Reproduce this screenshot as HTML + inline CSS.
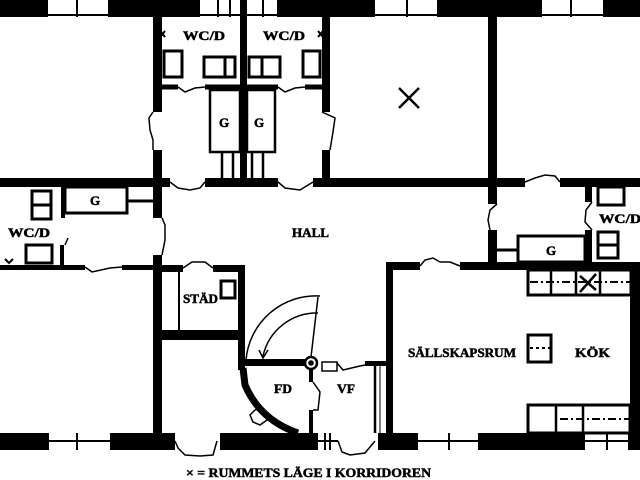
<!DOCTYPE html>
<html><head><meta charset="utf-8"><style>
html,body{margin:0;padding:0;background:#fff}
svg{display:block}
text{font-family:"Liberation Serif",serif;font-weight:bold;fill:#000;stroke:#000;stroke-width:0.5}
</style></head><body>
<svg width="640" height="480" viewBox="0 0 640 480" xmlns="http://www.w3.org/2000/svg">
<rect width="640" height="480" fill="#fff"/>
<g fill="#000">
<rect x="0" y="0" width="48" height="17"/>
<rect x="108" y="0" width="92" height="17"/>
<rect x="277" y="0" width="98" height="17"/>
<rect x="437" y="0" width="105" height="17"/>
<rect x="603" y="0" width="37" height="17"/>
<rect x="48" y="14" width="60" height="2"/>
<rect x="200" y="14" width="77" height="2"/>
<rect x="375" y="14" width="62" height="2"/>
<rect x="542" y="14" width="61" height="2"/>
<rect x="240" y="0" width="7" height="180"/>
<rect x="0" y="178" width="170" height="9"/>
<rect x="205" y="178" width="73" height="9"/>
<rect x="313" y="178" width="212" height="9"/>
<rect x="560" y="178" width="80" height="9"/>
<rect x="153" y="17" width="9" height="95"/>
<rect x="153" y="150" width="9" height="68"/>
<rect x="153" y="255" width="9" height="180"/>
<rect x="322" y="17" width="8" height="95"/>
<rect x="322" y="150" width="8" height="37"/>
<rect x="488" y="17" width="9" height="187"/>
<rect x="488" y="230" width="9" height="35"/>
<rect x="585" y="180" width="7" height="22"/>
<rect x="585" y="230" width="7" height="35"/>
<rect x="0" y="265" width="85" height="5"/>
<rect x="122" y="265" width="33" height="5"/>
<rect x="155" y="265" width="28" height="7"/>
<rect x="213" y="265" width="32" height="7"/>
<rect x="238" y="265" width="7" height="105"/>
<rect x="162" y="330" width="78" height="10"/>
<rect x="387" y="262" width="33" height="8"/>
<rect x="460" y="262" width="180" height="8"/>
<rect x="386" y="262" width="7" height="178"/>
<rect x="630" y="270" width="10" height="165"/>
<rect x="0" y="433" width="49" height="17"/>
<rect x="110" y="433" width="65" height="17"/>
<rect x="220" y="433" width="98" height="17"/>
<rect x="378" y="433" width="40" height="17"/>
<rect x="478" y="433" width="107" height="17"/>
<rect x="628" y="433" width="12" height="17"/>
<rect x="243" y="359" width="70" height="7"/>
<rect x="309" y="366" width="4" height="16"/>
<rect x="309" y="410" width="4" height="23"/>
<rect x="365" y="361" width="22" height="5"/>
<rect x="61" y="187" width="4" height="31"/>
<rect x="60" y="245" width="4" height="22"/>
</g>
<g fill="none" stroke="#000" stroke-width="2">
<line x1="48" y1="441" x2="110" y2="441"/><line x1="77" y1="433" x2="77" y2="450"/>
<line x1="418" y1="441" x2="478" y2="441"/><line x1="449" y1="433" x2="449" y2="450"/>
<line x1="585" y1="441" x2="628" y2="441"/><line x1="607" y1="433" x2="607" y2="450"/>
<line x1="318" y1="441" x2="338" y2="441"/><line x1="325" y1="433" x2="325" y2="450"/><line x1="330" y1="433" x2="330" y2="450"/>
<line x1="77" y1="0" x2="77" y2="17"/>
<line x1="218" y1="0" x2="218" y2="17"/><line x1="230" y1="0" x2="230" y2="17"/>
<line x1="263" y1="0" x2="263" y2="17"/>
<line x1="407" y1="0" x2="407" y2="17"/><line x1="571" y1="0" x2="571" y2="17"/>
<line x1="162" y1="87" x2="178" y2="87" stroke-width="5"/>
<line x1="205" y1="87" x2="278" y2="87" stroke-width="5"/>
<line x1="305" y1="87" x2="322" y2="87" stroke-width="5"/>
<rect x="210" y="90" width="30" height="62" stroke-width="2.5"/>
<rect x="247" y="90" width="28" height="62" stroke-width="2.5"/>
<line x1="222" y1="152" x2="222" y2="178" stroke-width="2.5"/><line x1="233" y1="152" x2="233" y2="178" stroke-width="2.5"/>
<line x1="252" y1="152" x2="252" y2="178" stroke-width="2.5"/><line x1="263" y1="152" x2="263" y2="178" stroke-width="2.5"/>
<rect x="164" y="51" width="18" height="26" stroke-width="3"/>
<rect x="204" y="57" width="31" height="20" stroke-width="3"/><line x1="225" y1="57" x2="225" y2="77" stroke-width="3"/>
<rect x="249" y="57" width="31" height="20" stroke-width="3"/><line x1="262" y1="57" x2="262" y2="77" stroke-width="3"/>
<rect x="303" y="51" width="17" height="26" stroke-width="3"/>
<g stroke-width="1.5">
<path d="M178 87 L185 92 L195 88 L205 87"/>
<path d="M278 87 L285 92 L295 88 L305 87"/>
<path d="M153 112 L149 118 L150 130 L153 140 L153 150"/>
<path d="M322 112 L335 118 L333 132 L330 150"/>
<path d="M170 182 L178 188 L190 190 L200 188 L205 182"/>
<path d="M278 182 L285 188 L300 190 L313 182"/>
<path d="M525 182 L535 178 L545 175 L555 176 L560 182"/>
<path d="M162 218 L165 225 L165 240 L162 255"/>
<path d="M497 204 L490 210 L488 220 L490 230"/>
<path d="M592 202 L586 210 L585 222 L592 230"/>
<path d="M85 267 L92 272 L110 268 L122 267"/>
<path d="M183 268 L192 262 L205 262 L213 268"/>
<path d="M420 266 L425 260 L433 258 L440 262 L450 262 L460 266"/>
<path d="M175 441 L178 448 L185 455 L200 456 L213 455 L217 441"/>
<path d="M338 441 L342 452 L350 455 L365 453 L375 441"/>
<path d="M65 245 L68 238"/>
<line x1="311" y1="357" x2="318" y2="297"/>
<path d="M246 360 A70 70 0 0 1 320 296"/>
<path d="M263 356 A55 55 0 0 1 318 313"/>
<path d="M259 350 L263 358 L268 350"/>
<path d="M313 382 L320 392 L318 410 L313 410"/>
<path d="M255 410 L262 408 L268 413 L267 420 L260 425 L253 422 L250 415 Z"/>
<rect x="322" y="362" width="15" height="9"/>
<path d="M337 363 L343 370 L360 366 L365 365"/>
</g>
<rect x="65" y="187" width="62" height="26" stroke-width="3"/>
<line x1="127" y1="201" x2="153" y2="201" stroke-width="3"/>
<rect x="32" y="191" width="19" height="28" stroke-width="3"/><line x1="32" y1="205" x2="51" y2="205" stroke-width="3"/>
<rect x="26" y="245" width="26" height="18" stroke-width="3"/>
<line x1="179" y1="272" x2="179" y2="330"/>
<rect x="221" y="281" width="14" height="17" stroke-width="3"/>
<rect x="518" y="236" width="67" height="26" stroke-width="3"/>
<line x1="497" y1="250" x2="518" y2="250" stroke-width="3"/>
<rect x="598" y="187" width="26" height="18" stroke-width="3"/>
<rect x="598" y="232" width="20" height="26" stroke-width="3"/><line x1="598" y1="245" x2="618" y2="245" stroke-width="3"/>
<rect x="528" y="270" width="103" height="25" stroke-width="3"/>
<line x1="551" y1="270" x2="551" y2="295" stroke-width="2.5"/>
<line x1="576" y1="270" x2="576" y2="295" stroke-width="2.5"/>
<line x1="600" y1="270" x2="600" y2="295" stroke-width="2.5"/>
<line x1="530" y1="282" x2="630" y2="282" stroke-dasharray="8,3,2,3"/>
<line x1="580" y1="292" x2="596" y2="274" stroke-width="2.5"/><line x1="580" y1="276" x2="596" y2="290" stroke-width="2.5"/>
<rect x="528" y="335" width="23" height="27" stroke-width="3"/>
<line x1="530" y1="348" x2="551" y2="348" stroke-dasharray="3,3"/>
<rect x="528" y="405" width="102" height="28" stroke-width="3"/>
<line x1="556" y1="405" x2="556" y2="433" stroke-width="2.5"/>
<line x1="583" y1="405" x2="583" y2="433" stroke-width="2.5"/>
<line x1="560" y1="419" x2="630" y2="419" stroke-dasharray="8,3,2,3"/>
<rect x="634" y="310" width="6" height="30" stroke-width="2.5"/>
<rect x="634" y="355" width="6" height="30" stroke-width="2.5"/>
<line x1="375" y1="363" x2="375" y2="433" stroke-width="2.5"/>
<line x1="380" y1="363" x2="380" y2="433" stroke-width="1"/>
<circle cx="311" cy="363" r="6" fill="#fff" stroke-width="2.5"/>
<circle cx="311" cy="363" r="1.8" fill="#000"/>
<path d="M243 368 L245 385 Q260 420 298 433" stroke-width="7"/>
<line x1="399" y1="88" x2="419" y2="108" stroke-width="2.5"/>
<line x1="419" y1="88" x2="399" y2="108" stroke-width="2.5"/>
<path d="M160 31 L165 37 M165 31 L160 37"/>
<path d="M318 31 L323 37 M323 31 L318 37"/>
<path d="M5 259 L9 263 L13 259"/>
</g>
<g font-size="13">
<text x="183" y="40" textLength="42" lengthAdjust="spacingAndGlyphs">WC/D</text>
<text x="263" y="40" textLength="42" lengthAdjust="spacingAndGlyphs">WC/D</text>
<text x="219" y="127">G</text>
<text x="254" y="127">G</text>
<text x="90" y="205">G</text>
<text x="546" y="255">G</text>
<text x="8" y="237" textLength="42" lengthAdjust="spacingAndGlyphs">WC/D</text>
<text x="599" y="223" textLength="42" lengthAdjust="spacingAndGlyphs">WC/D</text>
<text x="292" y="237" textLength="37" lengthAdjust="spacingAndGlyphs">HALL</text>
<text x="183" y="303" textLength="35" lengthAdjust="spacingAndGlyphs">STÄD</text>
<text x="408" y="357" textLength="108" lengthAdjust="spacingAndGlyphs">SÄLLSKAPSRUM</text>
<text x="575" y="357" textLength="35" lengthAdjust="spacingAndGlyphs">KÖK</text>
<text x="274" y="393" textLength="18" lengthAdjust="spacingAndGlyphs">FD</text>
<text x="337" y="393" textLength="18" lengthAdjust="spacingAndGlyphs">VF</text>
<text x="186" y="477" textLength="245" lengthAdjust="spacingAndGlyphs">× =  RUMMETS LÄGE I KORRIDOREN</text>
</g>
</svg>
</body></html>
